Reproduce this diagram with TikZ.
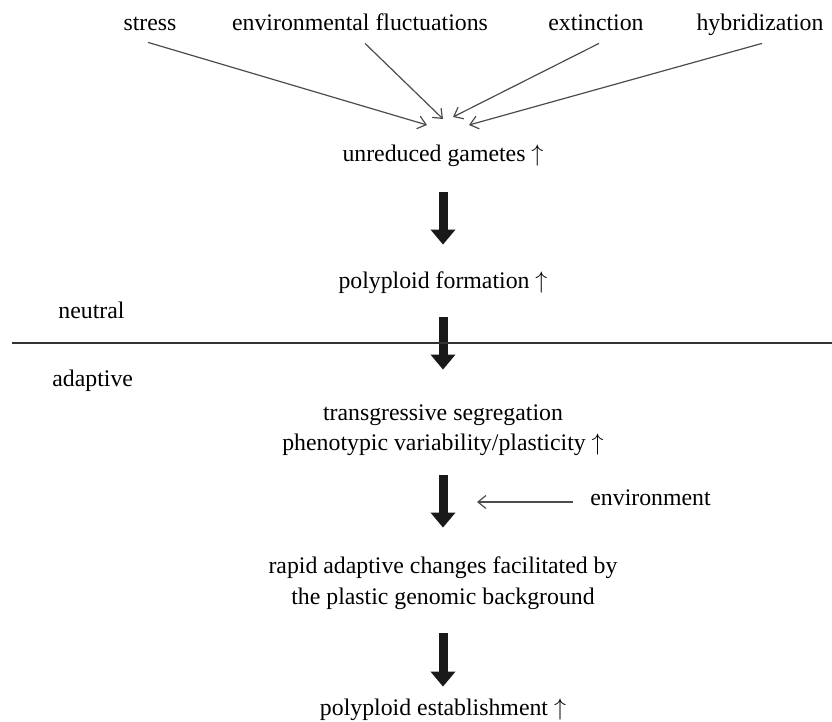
\documentclass[tikz,border=0pt]{standalone}
\usepackage{fontspec}
\setmainfont{Liberation Serif}
\usetikzlibrary{arrows.meta}
\begin{document}
\begin{tikzpicture}[x=0.5pt,y=-0.5pt,
	txt/.style={inner sep=0pt,font=\fontsize{11.9}{14}\selectfont,text height=10pt,text depth=1pt},
	thinarrow/.style={draw=black!70,line width=0.6pt,-{Straight Barb[length=4pt,width=6.5pt]}},
	bigarrow/.style={draw=black!90,line width=4.5pt,-{Triangle[length=7.5pt,width=12pt]}}]
		\useasboundingbox (0,0) rectangle (832,722);
		\node[txt] (stress) at (150,22) {stress};
		\node[txt] (envfl) at (360,22) {environmental fluctuations};
		\node[txt] (extinct) at (596,22) {extinction};
		\node[txt] (hybrid) at (760,22) {hybridization};
		\node[txt] (gametes) at (443,153) {unreduced gametes $\uparrow$};
		\node[txt] (formation) at (443,280) {polyploid formation $\uparrow$};
		\node[txt,anchor=west] (neutral) at (58,310) {neutral};
		\node[txt,anchor=west] (adaptive) at (52,378) {adaptive};
		\node[txt] (transA) at (443,412) {transgressive segregation};
		\node[txt] (transB) at (443,442) {phenotypic variability/plasticity $\uparrow$};
		\node[txt,anchor=west] (environ) at (590,497) {environment};
		\node[txt] (rapidA) at (443,565) {rapid adaptive changes facilitated by};
		\node[txt] (rapidB) at (443,595) {the plastic genomic background};
		\node[txt] (establish) at (443,707) {polyploid establishment $\uparrow$};
		\coordinate (tipA) at (427,125);
		\coordinate (tipB) at (443,119);
		\coordinate (tipC) at (453,117);
		\coordinate (tipD) at (469,125);
		\coordinate (envtip) at (477,502);
		\draw[thinarrow] ([shift={(-2,9)}]stress.south) -- (tipA);
		\draw[thinarrow] ([shift={(5,10)}]envfl.south) -- (tipB);
		\draw[thinarrow] ([shift={(3,10)}]extinct.south) -- (tipC);
		\draw[thinarrow] ([shift={(2,10)}]hybrid.south) -- (tipD);
		\draw[thinarrow] ([shift={(-17,5)}]environ.west) -- (envtip);
		\draw[bigarrow,shorten <=14pt,shorten >=12pt] (gametes) -- (formation);
		\draw[bigarrow,shorten <=13pt,shorten >=15.5pt] (formation) -- (transA);
		\draw[bigarrow,shorten <=11pt,shorten >=13pt] (transB) -- (rapidA);
		\draw[bigarrow,shorten <=13.5pt,shorten >=4.5pt] (rapidB) -- (establish);
		\draw[line width=1pt,black!80] (12,343) -- (832,343);
\end{tikzpicture}
\end{document}
